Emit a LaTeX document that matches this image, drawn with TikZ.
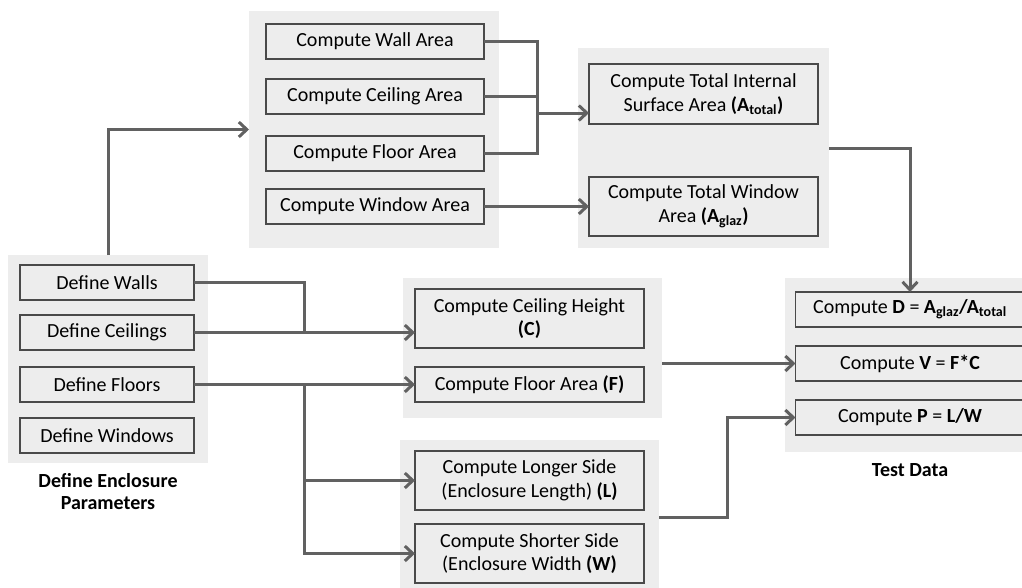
\documentclass[tikz,border=0pt]{standalone}
\usepackage{fontspec}
\setmainfont{Carlito}
\usetikzlibrary{arrows.meta,positioning}

\definecolor{bggray}{HTML}{EDEDED}
\definecolor{boxline}{HTML}{4A4A4A}
\definecolor{linegray}{HTML}{616161}

\begin{document}
\begin{tikzpicture}[
    x=1pt, y=-1pt, % 以像素為單位,y 軸向下
    font=\fontsize{20}{23.5}\selectfont,
    >={Straight Barb[length=8pt, width=15pt]}, % 設定箭頭樣式
    outer sep=0pt,
    % --- 樣式定義 ---
    % 基本灰底方塊
    basic box/.style={
        draw=boxline,
        line width=1.7pt,
        fill=bggray,
        align=center,
        inner sep=2pt,
        minimum height=35pt
    },
    define box/.style={basic box, minimum width=174pt},
    area box/.style={basic box, minimum width=218pt},
    wide box/.style={basic box, minimum width=229pt},
    tall box/.style={wide box, minimum height=59pt},
    % 群組背景
    group bg/.style={fill=bggray, draw=none, inner sep=0pt},
    % 群組標題(加粗)
    group label/.style={font=\fontsize{20}{22}\selectfont\bfseries, align=center},
    % 連接線
    link/.style={draw=linegray, line width=3pt}
]
    \useasboundingbox (0,0) rectangle (1022,587);

    % ====== 群組背景 ======
    \node[group bg, minimum width=200pt, minimum height=208pt] (gDefine) at (108,359) {};
    \node[group bg, minimum width=250pt, minimum height=237pt] (gArea) at (374,129.5) {};
    \node[group bg, minimum width=251pt, minimum height=200pt] (gTotal) at (703.5,148) {};
    \node[group bg, minimum width=259pt, minimum height=140pt] (gHeight) at (532.5,348) {};
    \node[group bg, minimum width=259pt, minimum height=148pt] (gSide) at (529.5,514) {};
    \node[group bg, minimum width=250pt, minimum height=174pt] (gTest) at (910,365) {};

    % ====== 左側:Define ======
    \node[define box] (walls) at (107,282.5) {Define Walls};
    \node[define box, below=15pt of walls] (ceilings) {Define Ceilings};
    \node[define box, below=17pt of ceilings] (floors) {Define Floors};
    \node[define box, below=16pt of floors] (windows) {Define Windows};
    \node[group label] at (108,492) {Define Enclosure\\Parameters};

    % ====== 面積計算 ======
    \node[area box] (wallA) at (375,41.5) {Compute Wall Area};
    \node[area box, below=20pt of wallA] (ceilA) {Compute Ceiling Area};
    \node[area box, below=22pt of ceilA] (floorA) {Compute Floor Area};
    \node[area box, below=18pt of floorA] (winA) {Compute Window Area};

    % ====== 總面積 ======
    \node[tall box, minimum height=60pt] (internal) at (703.5,94) {Compute Total Internal\\Surface Area \textbf{(A\textsubscript{total})}};
    \node[tall box, below=53pt of internal] (totwin) {Compute Total Window\\Area \textbf{(A\textsubscript{glaz})}};

    % ====== 高度與樓板 ======
    \node[tall box] (ceilH) at (529.5,318.5) {Compute Ceiling Height\\\textbf{(C)}};
    \node[wide box, below=19pt of ceilH] (floorF) {Compute Floor Area \textbf{(F)}};

    % ====== 長短邊 ======
    \node[tall box] (longer) at (529.5,480.5) {Compute Longer Side\\(Enclosure Length) \textbf{(L)}};
    \node[tall box, below=14pt of longer] (shorter) {Compute Shorter Side\\(Enclosure Width \textbf{(W)}};

    % ====== 右側:Test Data ======
    \node[wide box] (testD) at (910,309.5) {Compute \textbf{D} = \textbf{A\textsubscript{glaz}/A\textsubscript{total}}};
    \node[wide box, below=19pt of testD] (testV) {Compute \textbf{V} = \textbf{F*C}};
    \node[wide box, below=19pt of testV] (testP) {Compute \textbf{P} = \textbf{L/W}};
    \node[group label, below=8pt of gTest] {Test Data};

    % ====== 箭頭連接 ======
    \coordinate (merge) at (537,113);
    \coordinate (wjoin) at (304,332.5);
    \coordinate (fjoin) at (304,384.5);

    \draw[link, ->] (gDefine.north) |- (gArea.west);

    \draw[link] (wallA.east) -| (merge |- floorA.east) -- (floorA.east);
    \draw[link] (ceilA.east) -- (merge |- ceilA.east);
    \draw[link, ->] (merge) -- (merge -| internal.west);
    \draw[link, ->] (winA.east) -- (totwin.west);

    \draw[link, ->] (gTotal.east) -| (testD.north);

    \draw[link] (walls.east) -| (wjoin);
    \draw[link, ->] (ceilings.east) -- (ceilings.east -| ceilH.west);
    \draw[link, ->] (floors.east) -- (floorF.west);
    \draw[link, ->] (fjoin) |- (longer.west);
    \draw[link, ->] (fjoin) |- (shorter.west);

    \draw[link, ->] (gHeight.east |- testV.west) -- (testV.west);
    \draw[link, ->] ([yshift=-3pt]gSide.east) -- ++(68,0) |- (testP.west);

\end{tikzpicture}
\end{document}
